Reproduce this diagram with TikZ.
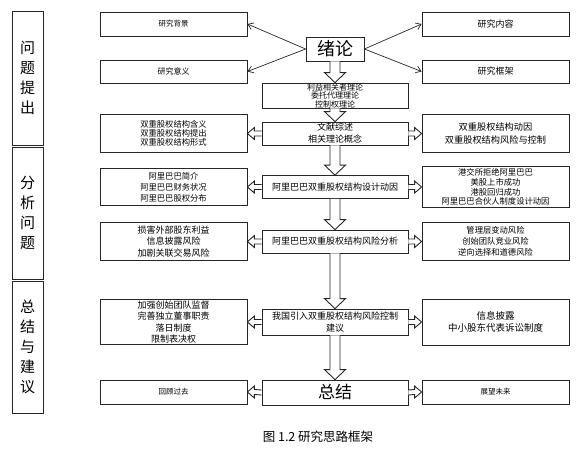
\documentclass[tikz,border=0pt]{standalone}
\usepackage{fontspec}
\setmainfont{Noto Sans CJK SC}
\usetikzlibrary{calc,arrows.meta}
\newcommand\myfs[2]{\fontsize{#1}{#2}\selectfont}
% vertical hollow block arrow from #1 (above) down to #2
\newcommand\vblk[2]{%
  \draw[blk] ($(#1.south)+(-5,0)$) -- ($(#2.north)+(-5,-10)$) -- ($(#2.north)+(-10.5,-10)$)
    -- (#2.north) -- ($(#2.north)+(10.5,-10)$) -- ($(#2.north)+(5,-10)$) -- ($(#1.south)+(5,0)$);}
% horizontal hollow arrow from #1.east to #2.west
\newcommand\hblkR[2]{%
  \draw[blk] ($(#1.east)+(0,-2.5)$) -- ($(#2.west)+(-7,-2.5)$) -- ($(#2.west)+(-7,-6)$)
    -- (#2.west) -- ($(#2.west)+(-7,6)$) -- ($(#2.west)+(-7,2.5)$) -- ($(#1.east)+(0,2.5)$);}
% horizontal hollow arrow from #1.west to #2.east
\newcommand\hblkL[2]{%
  \draw[blk] ($(#1.west)+(0,-2.5)$) -- ($(#2.east)+(7,-2.5)$) -- ($(#2.east)+(7,-6)$)
    -- (#2.east) -- ($(#2.east)+(7,6)$) -- ($(#2.east)+(7,2.5)$) -- ($(#1.west)+(0,2.5)$);}
\begin{document}
\begin{tikzpicture}[x=1pt,y=-1pt,
  box/.style={draw=black!85,line width=0.8pt,fill=white,align=center,inner sep=0pt,minimum width=147pt},
  cbox/.style={box,minimum width=146pt},
  side/.style={draw=black!85,line width=0.8pt,fill=white,align=center,inner sep=0pt,minimum width=31pt,font={\myfs{15}{20}}},
  blk/.style={draw=black!85,line width=0.9pt,fill=white,line join=miter},
  thinarr/.style={draw=black!85,line width=0.7pt,-{Straight Barb[length=5pt,width=7pt]}}]
\fill[white] (0,0) rectangle (578,459);
\useasboundingbox (0,0) rectangle (578,459);

% left stage column
\node[side,minimum height=134pt] (q1) at (27.5,78) {问\\题\\提\\出};
\node[side,minimum height=132pt] (q2) at (27.5,213) {分\\析\\问\\题};
\node[side,minimum height=132pt] (q3) at (27.5,347) {总\\结\\与\\建\\议};

% top row
\node[box,minimum height=24pt,font={\myfs{7.5}{9}}] (bg) at (173.5,24) {研究背景};
\node[box,minimum height=23pt,font={\myfs{8}{9}}] (yy) at (173.5,71.5) {研究意义};
\node[box,minimum height=24pt,font={\myfs{9}{10}}] (nr) at (495.5,24) {研究内容};
\node[box,minimum height=23pt,font={\myfs{9}{10}}] (kj) at (495.5,71.5) {研究框架};
\node[draw=black!85,line width=0.8pt,fill=white,inner sep=0pt,minimum width=58pt,minimum height=24pt,font={\myfs{18}{20}}] (xl) at (335,49) {绪论};

% center column
\node[cbox,minimum height=25pt,font={\myfs{8}{8.5}}] (c0) at (335,95.5) {利益相关者理论\\委托代理理论\\控制权理论};
\node[cbox,minimum height=23pt,font={\myfs{9}{12}}] (c1) at (335,133.5) {文献综述\\相关理论概念};
\node[cbox,minimum height=23pt,font={\myfs{9}{11}}] (c2) at (335,187) {阿里巴巴双重股权结构设计动因};
\node[cbox,minimum height=23pt,font={\myfs{9}{11}}] (c3) at (335,241.5) {阿里巴巴双重股权结构风险分析};
\node[cbox,minimum height=26pt,font={\myfs{9}{11.5}}] (c4) at (335,322) {我国引入双重股权结构风险控制\\建议};
\node[cbox,minimum height=25pt,font={\myfs{17}{18}}] (c5) at (335,392.5) {总结};

% left boxes
\node[box,minimum height=38pt,font={\myfs{8.3}{9}}] (l1) at (173.5,133.5) {双重股权结构含义\\双重股权结构提出\\双重股权结构形式};
\node[box,minimum height=37pt,font={\myfs{8.3}{11}}] (l2) at (173.5,187) {阿里巴巴简介\\阿里巴巴财务状况\\阿里巴巴股权分布};
\node[box,minimum height=38pt,font={\myfs{9}{11.5}}] (l3) at (173.5,241.5) {损害外部股东利益\\信息披露风险\\加剧关联交易风险};
\node[box,minimum height=45pt,font={\myfs{9}{11.3}}] (l4) at (173.5,322) {加强创始团队监督\\完善独立董事职责\\落日制度\\限制表决权};
\node[box,minimum height=24pt,font={\myfs{7.5}{9}}] (l5) at (173.5,392) {回顾过去};

% right boxes
\node[box,minimum height=38pt,font={\myfs{9.2}{12.5}}] (r1) at (495.5,133.5) {双重股权结构动因\\双重股权结构风险与控制};
\node[box,minimum height=41pt,font={\myfs{8.3}{9.8}}] (r2) at (495.5,187) {港交所拒绝阿里巴巴\\美股上市成功\\港股回归成功\\阿里巴巴合伙人制度设计动因};
\node[box,minimum height=38pt,font={\myfs{8.3}{10.8}}] (r3) at (495.5,241.5) {管理层变动风险\\创始团队竞业风险\\逆向选择和道德风险};
\node[box,minimum height=46pt,font={\myfs{9.5}{11.5}}] (r4) at (495.5,322) {信息披露\\中小股东代表诉讼制度};
\node[box,minimum height=24pt,font={\myfs{7.5}{9}}] (r5) at (495.5,392) {展望未来};

% thin arrows from 绪论
\draw[thinarr] (xl.west) -- (bg.east);
\draw[thinarr] (xl.west) -- (yy.east);
\draw[thinarr] (xl.east) -- (nr.west);
\draw[thinarr] (xl.east) -- (kj.west);

% vertical block arrows
\vblk{xl}{c0}
\vblk{c0}{c1}
\vblk{c1}{c2}
\vblk{c2}{c3}
\vblk{c3}{c4}
\vblk{c4}{c5}

% horizontal block arrows
\hblkL{c1}{l1} \hblkR{c1}{r1}
\hblkL{c2}{l2} \hblkR{c2}{r2}
\hblkL{c3}{l3} \hblkR{c3}{r3}
\hblkL{c4}{l4} \hblkR{c4}{r4}
\hblkL{c5}{l5} \hblkR{c5}{r5}

% caption
\node[font={\myfs{12.5}{14}},inner sep=0pt] (cap) at (318,437) {图 1.2 研究思路框架};
\end{tikzpicture}
\end{document}
